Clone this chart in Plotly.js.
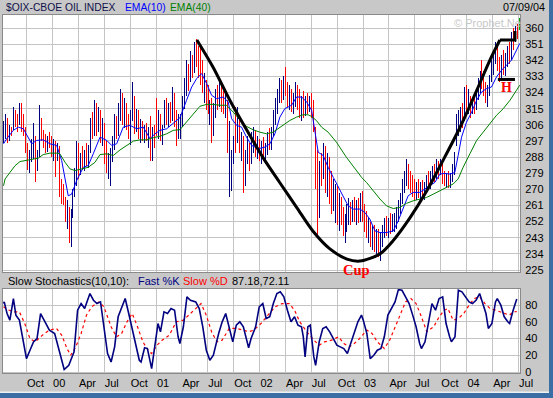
<!DOCTYPE html>
<html><head><meta charset="utf-8">
<script src="https://cdn.plot.ly/plotly-3.0.1.min.js"></script>
<style>html,body{margin:0;padding:0;background:#c8c8c8;} #chart{width:553px;height:398px;}
#chart .ohlclayer path{shape-rendering:crispEdges;}</style>
</head><body><div id="chart"></div>
<script>
// ---- data (weekly bars, week 0 = 1999-07-12) ----
const openP = [297,300,308,299,303,304,313,308,306,316, 305,303,292,284,289,292,300,280,289,310,
300,298,294,297,295,292,295,290,292,270, 265,263,256,260,244,255,266,279,292,283,
288,285,289,286,292,306,300,317,305,312, 300,307,287,282,287,290,297,309,302,315,
322,310,318,305,301,311,322,305,312,300, 305,301,303,299,302,290,302,315,304,310,
300,304,315,309,314,310,322,309,298,308, 309,318,329,338,330,344,336,349,342,335,
332,327,331,318,315,316,300,315,322,318, 327,318,316,318,294,272,285,305,296,306,
293,298,275,288,290,286,298,300,292,296, 289,294,290,293,299,296,302,311,318,322,
328,323,330,325,320,324,316,321,327,318, 314,319,313,319,316,320,313,305,274,262,
280,276,292,272,285,268,262,256,266,256, 262,254,250,252,258,261,256,260,256,260,
254,262,255,250,248,250,242,247,240,244, 236,242,247,252,247,251,248,253,255,257,
262,265,273,277,284,275,272,270,268,270, 269,271,268,272,276,274,278,280,278,284,
282,285,276,275,276,274,277,282,294,308, 310,312,308,324,316,322,313,318,314,324,
330,338,330,325,322,326,332,340,343,349, 340,336,342,338,344,348,343,356,352,358, 359];
const highP = [308,312,310,306,305,316,314,312,318,318, 312,305,296,292,298,307,300,292,317,310,
303,301,300,302,300,298,297,296,294,276, 273,266,264,260,259,270,282,297,296,290,
294,292,296,295,310,313,320,318,316,314, 310,307,297,290,293,300,312,311,318,326,
324,321,318,312,314,330,322,315,314,309, 308,306,307,305,311,305,306,321,314,312,
306,320,321,318,319,327,324,314,312,312, 322,332,342,340,347,345,352,354,350,349,
342,335,331,328,320,321,318,326,328,331, 330,325,324,320,308,292,300,316,316,310,
302,300,292,300,296,302,305,303,300,298, 297,299,296,302,304,305,314,321,326,332,
331,333,338,330,328,326,324,330,328,326, 322,325,322,324,322,324,320,305,292,286,
290,296,294,290,288,280,276,273,272,268, 266,260,256,262,265,263,264,266,264,265,
268,269,262,258,254,252,250,250,248,248, 246,250,254,255,254,257,256,257,260,264,
268,276,280,287,284,280,278,276,274,276, 274,275,274,278,280,280,283,284,287,286,
287,285,280,279,280,279,284,291,312,314, 316,318,327,328,326,322,320,322,326,332,
336,342,336,330,328,334,342,346,352,350, 344,345,348,346,350,352,358,360,361,362, 365.5];
const lowP = [296,298,296,297,300,303,305,302,306,302, 300,290,281,279,285,287,274,280,288,297,
293,290,291,293,288,286,277,286,266,262, 261,252,248,240,238,254,266,272,276,278,
281,280,283,282,290,298,300,300,302,296, 294,284,279,276,272,285,292,298,300,308,
306,304,303,298,295,308,301,302,298,296, 297,296,297,293,286,286,293,300,298,297,
295,304,306,305,307,308,305,294,298,298, 305,315,322,325,330,332,335,338,332,328,
324,318,314,312,306,296,300,310,314,316, 313,312,310,290,266,269,284,290,296,290,
286,268,272,284,280,284,290,288,287,286, 284,286,284,289,292,292,300,306,312,318,
318,320,322,316,314,313,312,316,314,310, 308,310,311,312,313,310,302,270,243,254,
272,276,268,266,262,256,258,251,250,247, 250,244,240,246,250,250,252,252,250,251,
252,252,246,243,240,238,236,235,234,232, 230,238,243,244,243,245,246,246,248,252,
256,262,268,272,270,268,266,264,264,265, 264,265,264,268,270,270,273,274,276,276,
278,273,272,271,271,271,274,278,294,300, 302,304,308,312,312,310,312,312,314,320,
324,326,322,318,316,322,330,334,340,336, 330,332,334,333,338,340,342,348,352,354, 359];
const closeP = [300,308,299,303,302,313,308,304,316,305, 303,292,284,289,295,300,280,289,310,300,
298,294,297,295,292,295,290,292,270,265, 263,256,260,244,255,266,279,292,283,288,
285,289,286,292,306,300,317,305,312,300, 307,287,282,287,290,297,309,302,315,322,
310,318,305,301,311,322,305,312,300,305, 301,303,299,302,290,302,297,304,310,300,
303,315,309,314,310,322,309,298,308,309, 318,329,338,330,344,336,349,342,335,332,
327,331,318,315,316,300,315,322,318,327, 318,316,320,294,298,285,296,294,306,293,
298,275,288,290,284,298,300,292,296,289, 294,290,293,299,296,302,311,318,322,328,
323,330,325,320,324,316,321,327,318,314, 319,313,319,316,320,313,305,274,262,280,
276,292,272,285,268,262,270,266,256,262, 254,250,252,258,261,256,260,256,260,254,
262,255,250,248,250,242,247,240,244,236, 242,247,252,247,251,248,253,255,257,262,
265,273,277,284,275,272,270,268,270,269, 271,268,272,276,274,278,280,278,284,282,
285,276,275,276,274,277,282,288,308,310, 312,306,324,316,322,313,318,314,324,330,
332,330,325,322,326,332,340,343,349,340, 336,342,338,344,348,343,356,352,358,356, 364];

const ema10Week = [0,1.6,4.9,7.5,10,11.7,14.2,16.7,20,23.4,26.8,29.3,31,32.6,34.3,36.8,40.2,42.7,45.2,48.6,52,54.5,57,60.3,63.7,67.1,70.4,73.8,76.3,78.8,82.2,85.5,88.9,92.2,94.8,97.3,99.8,102.3,104.8,107.3,110.7,113.2,114.9,117.4,119.9,122.4,125,128.3,131.7,134.2,136.7,139.2,141.7,145.1,147.6,150.2,152.7,155.2,156.8,158.5,161,163.5,166.1,168.6,171.1,173.6,176.1,179.5,182,184.5,187.1,189.6,192.9,196.3,198.8,201.3,203.8,206.3,209.7,212.2,214.8,217.3,219.8,222.3,224.8,227.3,229,230.7,233.2,235.8,238.3,240.8,243.3,245.8,248.3,250.9,253.4,255.9,258.4,260];
const ema10Val = [295.4,298.2,302.9,304.7,303.8,300.1,295.4,297.3,297.6,295.4,294.5,286.1,274.8,266.4,267.3,274.8,282.3,283.3,289.8,299.1,297.3,294.5,295.4,304.7,305.7,303.8,304.7,298.2,301,302.9,303.8,306.6,310,319.7,327.1,331.8,334.6,329,322.5,320.6,321.5,318.7,309.4,305.7,304.7,299.1,294.5,292.6,293.6,295.4,301,310.3,315,316.9,321.5,321.5,318.7,314.1,302.9,290.7,288.9,282.3,276.7,271.1,266.4,260.8,259,259,257.1,253.4,246.8,245.9,245.9,246.8,252.4,259.9,266.4,268.3,268.3,270.2,272,273.9,278.5,278.9,278.5,279.4,288.9,299.1,307.5,313.1,319.7,324.3,326.2,327.1,332.7,336.5,339.3,342.1,347.7,351.4];
const ema40Week = [0,0.8,3.3,5.8,8.3,11.7,15,17.5,20,23.4,26.8,28.4,31,33.5,36,39.4,42.7,46.1,48.6,52,55.3,58.7,62,65.4,68.7,72.1,75.4,78.8,82.2,85.5,88.9,92.2,95.6,98.9,102.3,105.6,109,112.3,115.7,119,122.4,125.8,129.1,132.5,135.8,138.3,140.9,144.2,147.6,150.9,153.4,155.1,157.6,160.2,163.5,167.7,172.7,177.8,180.5,182.8,186.2,189.6,192.9,196.3,199.6,203,206.3,209.7,213.1,216.4,219.8,223.1,226.5,229,231.5,234.9,238.3,241.6,245,248.3,251.7,255.1,258.4,260];
const ema40Val = [272,275.8,279.5,283.2,285.5,286.1,287,287.4,289.4,290.2,290.2,289.8,285.1,281.4,280.5,281.4,282.3,285.1,289.4,289.8,288.9,292,294.5,296.9,297.6,297.6,298.8,299.6,301,302.9,303.3,307.5,312.2,316.3,317.4,317.4,316.9,316.9,313.1,308.8,305.1,303.2,301.9,301,301.9,303.8,306.2,308.4,310.3,311.6,311.6,310.7,308.4,304.7,301.9,296.3,287.9,280.5,276.5,273.9,269.2,264.6,260.8,259.3,259.9,262.2,263.6,264.6,265.5,267.3,269.2,271.1,273,275.8,282.3,289.8,297.3,301.9,306.6,311.3,315,319.7,325.3,328.1];

const fastKWeek = [0,0.37,1.79,3.21,4.99,6.23,8.01,9.79,11.56,13.34,15.11,16.89,18.67,20.44,23.11,25.77,27.55,29.32,30.57,32.88,35.54,37.32,39.09,40.87,43.53,45.31,47.08,48.86,50.64,52.41,54.19,55.97,57.74,59.52,61.29,63.07,64.85,66.62,68.4,69.29,71.06,72.48,73.73,74.62,76.39,77.81,79.06,80.83,82.61,84.39,86.16,87.94,88.83,90.6,92.38,94.16,96.82,98.6,100.37,102.15,103.92,105.7,108.37,110.14,111.92,113.69,115.47,117.25,119.02,120.8,122.57,123.46,124.7,127,128.8,130.6,132.3,134.1,135.9,137.7,139.4,141.2,143,144.8,146.6,148.3,150.1,151,151.9,153.3,154.5,156.3,157.2,159,160.8,162.5,164.3,166.1,167.9,169.6,171.4,173.2,175,176.7,178.5,180.3,181.2,183,184.7,186.5,188.3,190.1,191.8,193.6,195.4,197.2,198.9,200.7,202.5,204.3,206.1,207.8,209.6,210.5,212.3,214,215.8,217.6,219.4,221.2,222.9,224.7,225.6,227.4,229.1,230.9,232.7,234.5,236.2,238,239.8,241.6,243,244.2,246,247.8,248.7,250.5,252.2,254,254.9,256.7,258.5];
const fastKVal = [81.7,83.7,69.8,61.9,87.7,67.9,61.9,38,16,26,36,40,69.8,61.9,50,46,30,14,3,8,24,73.8,81.7,75.8,93.7,85.7,81.7,83.7,54,22,12,30,65.9,77.8,87.7,69.8,50,30,14,12,29,28,14,4,34,57.9,48,71.8,69.8,75.8,73.8,42,34,54,89.7,85.7,83.7,75.8,54,26,14,20,46,59.9,69.8,52,36,56,59.9,54,38,29,40,54,77.8,81.7,63.9,65.9,81.7,93.7,95.7,89.7,73.8,59.9,65.9,56,54,42,18,54,56,18,8,36,52,54,48,40,32,30,28,22,34,48,59.9,67.9,61.9,46,16,20,26,28,42,67.9,75.8,83.7,98.4,97.6,89.7,81.7,67.9,54,34,28,36,57.9,81.7,73.8,87.7,89.7,57.9,42,36,42,97.6,95.7,89.7,83.7,81.7,85.7,93.7,81.7,69.8,52,57.9,83.7,87.7,79.8,65.9,59.9,57.9,73.8,87.2];
const slowDWeek = [0,1.8,5.3,8,10.7,13.3,16,19.6,23.1,26.7,29.3,32,33.8,36.4,39.1,41.8,44.4,48,50.6,52.4,54.2,56.9,59.5,62.2,64.8,67.5,70.2,72.8,74.6,77.3,79.9,83.5,87,90.6,94.2,96.8,99.5,102.1,104.8,107.5,110.1,113.7,117.2,120.8,123.5,126.1,129.7,133.2,136.8,140.3,143.9,146.6,149.2,152.8,156.3,159,161.7,165.2,168.8,171.4,174.1,176.7,179.4,183,185.6,188.3,191.8,194.5,197.2,199.8,202.5,205.2,207.8,210.5,213.2,216.7,219.4,222,223.8,226.5,229.1,231.8,234.5,237.1,239.8,242.5,245.1,247.8,250.5,253.1,254.9,256.7,258.5];
const slowDVal = [77.8,74.6,71.8,71.8,57.9,40,36,44,50,52,44,28,20,30,46,67.9,77.8,83.7,77.8,65.9,54,42,46,59.9,69.8,54,36,26,22,32,38,44,59.9,61.9,69.8,75.8,81.7,67.9,48,36,38,52,52,50,48,50,57.9,67.9,77.8,81.7,81.7,73.8,59.9,48,38,32,36,38,42,34,30,34,40,50,46,36,28,38,54,69.8,83.7,87.7,81.7,65.9,48,54,65.9,73.8,75.8,61.9,63.9,69.8,79.8,87.7,89.7,81.7,75.8,73.8,71.8,69.8,67.9,71.8,72.1];

// hand-drawn cup & handle annotation
const cupWeek = [97.4,105.5,114,122.6,130.7,139.2,147.8,155.8,164.4,173,179.5,189.6,196.1,204.7,213.2,221.3,229.9,238.4,245,250];
const cupPrice = [353.3,338.2,319.7,302.9,287.7,273.7,259.7,246.8,236.8,231.1,230,234,241.2,254.1,269.2,286,304.5,325.3,342.1,353.3];
const handleTopWeek = [250,257.6,257.6];
const handleTopPrice = [353.3,353.3,358.3];
const handleLowWeek = [249,257.6];
const handleLowPrice = [331.3,331.3];

const quarterTicks = ['1999-10-01','2000-01-01','2000-04-01','2000-07-01','2000-10-01','2001-01-01','2001-04-01','2001-07-01','2001-10-01','2002-01-01','2002-04-01','2002-07-01','2002-10-01','2003-01-01','2003-04-01','2003-07-01','2003-10-01','2004-01-01','2004-04-01','2004-07-01'];
const quarterLabels = ['Oct','00','Apr','Jul','Oct','01','Apr','Jul','Oct','02','Apr','Jul','Oct','03','Apr','Jul','Oct','04','Apr','Jul'];
const priceTicks = [225,234,243,252,261,270,279,288,297,306,315,324,333,342,351,360];
const stochTicks = [0,20,40,60,80];

// ---- helpers ----
const T0 = Date.UTC(1999,6,12);
function wd(i){ return new Date(T0 + i*7*86400000).toISOString().slice(0,19).replace('T',' '); }
const nBars = closeP.length - 1; // last bar drawn separately (green)
const barDates = []; for (let i=0;i<closeP.length;i++) barDates.push(wd(i));

const W = 553, H = 398, L = 3, R = 33;
const PX = px => (px - L) / (W - L - R);
const PY = py => 1 - py / H;

const traces = [
  {type:'ohlc', x:barDates.slice(0,nBars), open:openP.slice(0,nBars), high:highP.slice(0,nBars), low:lowP.slice(0,nBars), close:closeP.slice(0,nBars),
   increasing:{line:{color:'#000080', width:1}}, decreasing:{line:{color:'#ff0000', width:1}}, tickwidth:0.35, hoverinfo:'skip', xaxis:'x', yaxis:'y'},
  {type:'ohlc', x:barDates.slice(nBars), open:openP.slice(nBars), high:highP.slice(nBars), low:lowP.slice(nBars), close:closeP.slice(nBars),
   increasing:{line:{color:'#00a000', width:1}}, decreasing:{line:{color:'#00a000', width:1}}, hoverinfo:'skip', xaxis:'x', yaxis:'y'},
  {type:'scatter', mode:'lines', x:ema10Week.map(wd), y:ema10Val, line:{color:'#0000ff', width:1}, hoverinfo:'skip', xaxis:'x', yaxis:'y'},
  {type:'scatter', mode:'lines', x:ema40Week.map(wd), y:ema40Val, line:{color:'#008000', width:1}, hoverinfo:'skip', xaxis:'x', yaxis:'y'},
  {type:'scatter', mode:'lines', x:cupWeek.map(wd), y:cupPrice, line:{color:'#000000', width:3, shape:'spline', smoothing:0.8}, hoverinfo:'skip', xaxis:'x', yaxis:'y'},
  {type:'scatter', mode:'lines', x:handleTopWeek.map(wd), y:handleTopPrice, line:{color:'#000000', width:3}, hoverinfo:'skip', xaxis:'x', yaxis:'y'},
  {type:'scatter', mode:'lines', x:handleLowWeek.map(wd), y:handleLowPrice, line:{color:'#000000', width:3}, hoverinfo:'skip', xaxis:'x', yaxis:'y'},
  {type:'scatter', mode:'lines', x:slowDWeek.map(wd), y:slowDVal, line:{color:'#ff0000', width:1.2, dash:'dot'}, hoverinfo:'skip', xaxis:'x2', yaxis:'y2'},
  {type:'scatter', mode:'lines', x:fastKWeek.map(wd), y:fastKVal, line:{color:'#000080', width:1.6}, hoverinfo:'skip', xaxis:'x2', yaxis:'y2'}
];

const xRange = ['1999-07-10 05:40', '2004-07-06 00:00'];
const gridC = '#c4c4c4';
const font = {family:'"Liberation Sans", Arial, sans-serif', size:11, color:'#000000'};

function ann(text, px, py, color, xanchor, size){
  return {text:text, xref:'paper', yref:'paper', x:PX(px), y:PY(py), xanchor:xanchor||'left', yanchor:'middle',
    showarrow:false, font:{family:font.family, size:size||11, color:color}};
}

const layout = {
  width:W, height:H, margin:{l:L, r:R, t:0, b:0, autoexpand:false},
  paper_bgcolor:'#c8c8c8', plot_bgcolor:'#ffffff', showlegend:false, font:font,
  xaxis:{type:'date', range:xRange, domain:[0,1], anchor:'y', tickvals:quarterTicks, showticklabels:false, ticks:'',
         showgrid:true, gridcolor:gridC, gridwidth:1, zeroline:false, showline:true, mirror:true, linecolor:'#8a8a8a', linewidth:1,
         rangeslider:{visible:false}, fixedrange:true},
  yaxis:{domain:[PY(272), PY(15)], range:[223.9, 367.25], side:'right', anchor:'x', tickvals:priceTicks, ticks:'',
         showgrid:true, gridcolor:gridC, gridwidth:1, zeroline:false, showline:true, mirror:true, linecolor:'#8a8a8a', linewidth:1,
         ticklabelstandoff:2, tickfont:{size:11, color:'#000'}, fixedrange:true},
  xaxis2:{type:'date', range:xRange, domain:[0,1], anchor:'y2', tickvals:quarterTicks, ticktext:quarterLabels, ticks:'',
         ticklabelposition:'outside right', showgrid:true, gridcolor:gridC, gridwidth:1, zeroline:false,
         showline:true, mirror:true, linecolor:'#8a8a8a', linewidth:1, tickfont:{size:11, color:'#000'}, fixedrange:true},
  yaxis2:{domain:[PY(373), PY(289)], range:[-1.2, 99.1], side:'right', anchor:'x2', tickvals:stochTicks, ticks:'',
         showgrid:true, gridcolor:gridC, gridwidth:1, zeroline:false, showline:true, mirror:true, linecolor:'#8a8a8a', linewidth:1,
         ticklabelstandoff:2, tickfont:{size:11, color:'#000'}, fixedrange:true},
  annotations:[
    ann('$OIX-CBOE OIL INDEX', 4, 7, '#10104a', 'left', 10.3),
    ann('EMA(10)', 123, 7, '#0000ff', 'left', 10.3),
    ann('EMA(40)', 168, 7, '#008000', 'left', 10.3),
    ann('07/09/04', 547, 7, '#000000', 'right', 10.8),
    ann('© Prophet.Net', 452, 23, '#c8c8c8'),
    ann('Slow Stochastics(10,10):', 6, 281, '#000000'),
    ann('Fast %K', 136, 281, '#000080'),
    ann('Slow %D', 181, 281, '#ff0000'),
    ann('87.18,72.11', 230, 281, '#000000'),
    {text:'<b>Cup</b>', xref:'x', yref:'y', x:wd(178), y:225.2, xanchor:'center', yanchor:'middle', showarrow:false,
     font:{family:'"Liberation Serif", "Times New Roman", serif', size:14.5, color:'#ff0000'}},
    {text:'<b>H</b>', xref:'x', yref:'y', x:wd(253.5), y:326.8, xanchor:'center', yanchor:'middle', showarrow:false,
     font:{family:'"Liberation Serif", "Times New Roman", serif', size:14, color:'#ff0000'}}
  ],
  shapes:[
    {type:'rect', xref:'paper', yref:'paper', x0:PX(549), x1:PX(553), y0:0, y1:1, fillcolor:'#3a6ea5', line:{width:0}, layer:'above'},
    {type:'rect', xref:'paper', yref:'paper', x0:PX(0), x1:PX(553), y0:PY(398), y1:PY(393), fillcolor:'#3a6ea5', line:{width:0}, layer:'above'},
    {type:'rect', xref:'paper', yref:'paper', x0:PX(0), x1:PX(549), y0:PY(393), y1:PY(391.5), fillcolor:'#f0f0f0', line:{width:0}, layer:'above'}
  ]
};

Plotly.newPlot('chart', traces, layout, {displayModeBar:false, staticPlot:true});
</script>
</body></html>
